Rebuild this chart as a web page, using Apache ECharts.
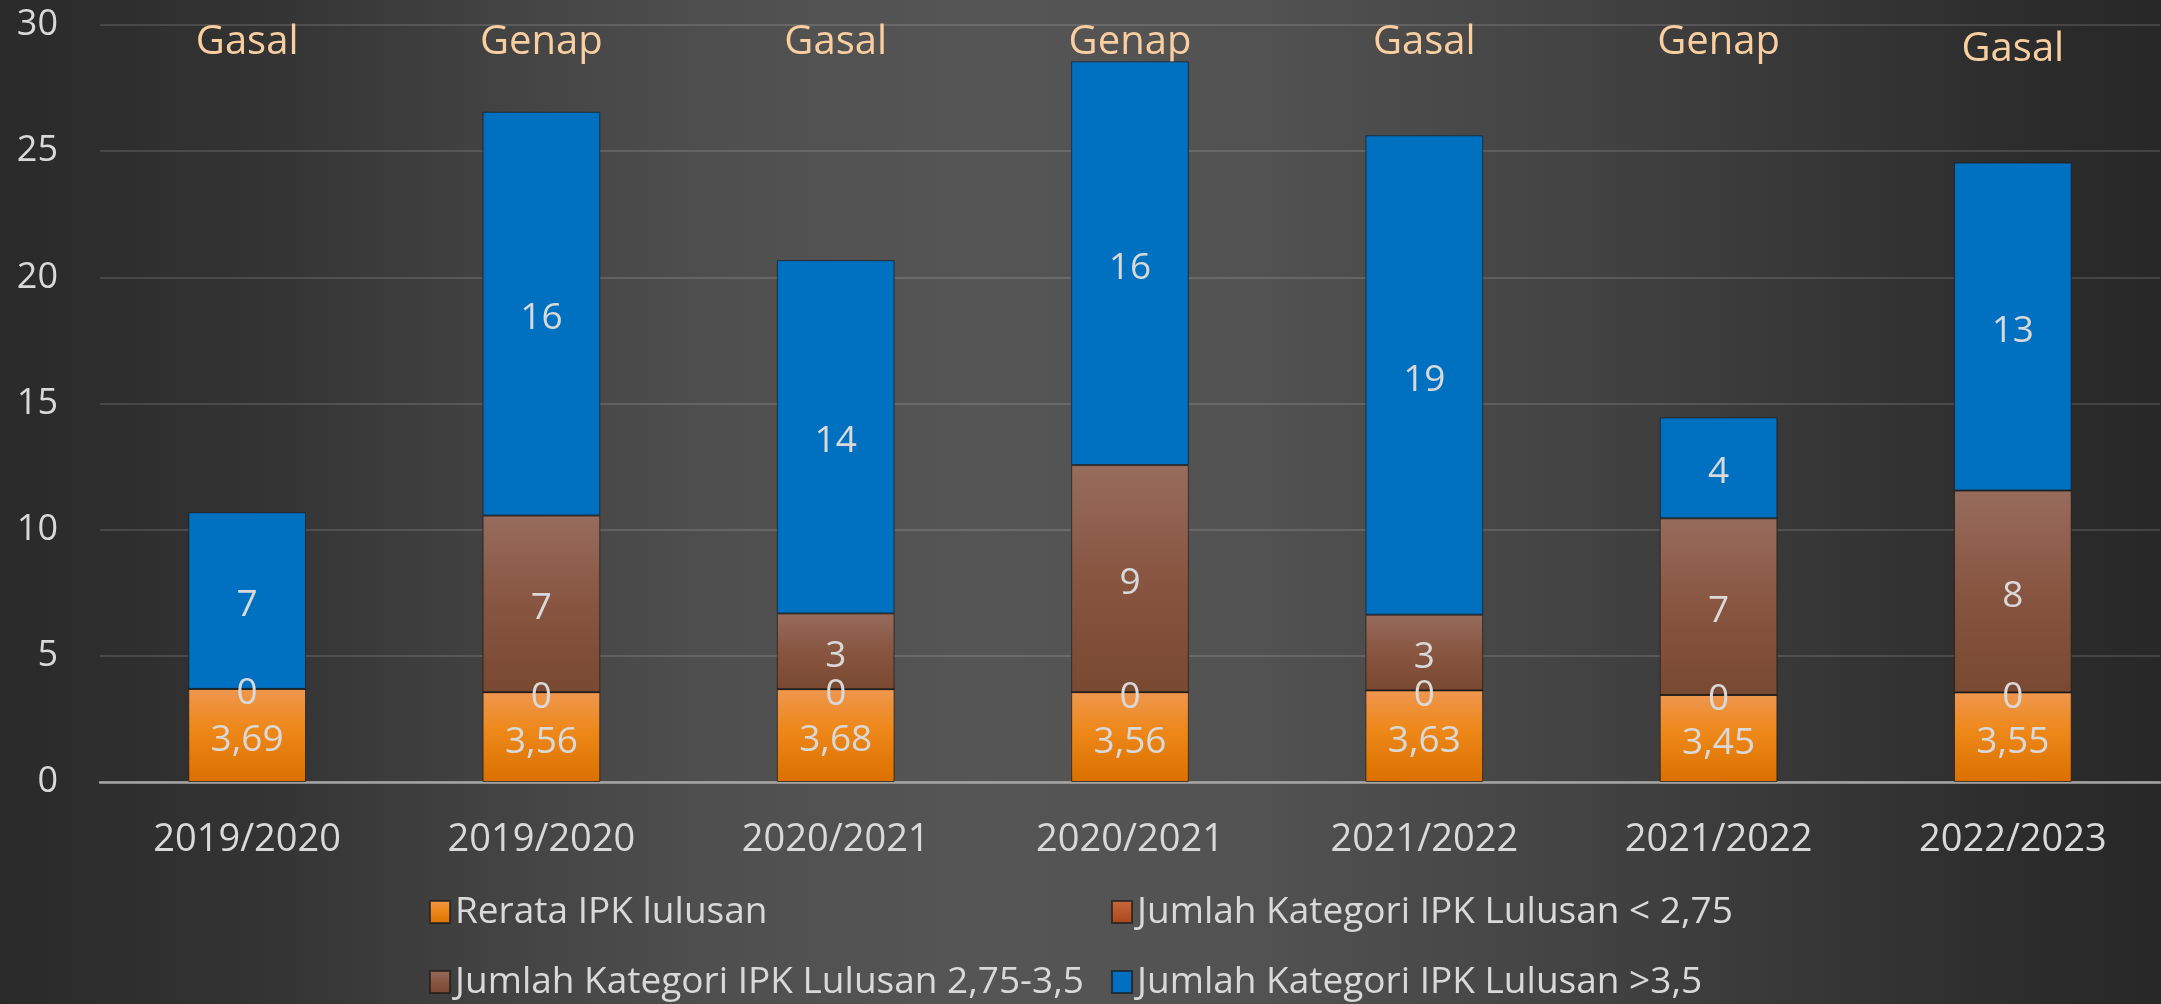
<!DOCTYPE html>
<html>
<head>
<meta charset="utf-8">
<script src="https://cdn.jsdelivr.net/npm/echarts@6/dist/echarts.min.js"></script>
<style>
  html, body { margin: 0; padding: 0; background: #2a2a2a; }
  #chart { width: 2161px; height: 1004px; }
</style>
</head>
<body>
<div id="chart"></div>
<script>
const years = ['2019/2020', '2019/2020', '2020/2021', '2020/2021', '2021/2022', '2021/2022', '2022/2023']
const semesters = ['Gasal', 'Genap', 'Gasal', 'Genap', 'Gasal', 'Genap', 'Gasal']

const rerataIpk = [3.69, 3.56, 3.68, 3.56, 3.63, 3.45, 3.55]
const ipkBawah275 = [0, 0, 0, 0, 0, 0, 0]
const ipk275to35 = ['-', 7, 3, 9, 3, 7, 8]
const ipkAtas35 = [7, 16, 14, 16, 19, 4, 13]

const seriesNames = [
  'Rerata IPK lulusan',
  'Jumlah Kategori IPK Lulusan < 2,75',
  'Jumlah Kategori IPK Lulusan 2,75-3,5',
  'Jumlah Kategori IPK Lulusan >3,5',
]

const FONT = 'Open Sans'
const TEXT = '#d9d9d9'

function vgrad(stops) {
  return new echarts.graphic.LinearGradient(0, 0, 0, 1,
    stops.map(([offset, color]) => ({ offset, color })))
}

const barColors = [
  vgrad([[0, '#f0974f'], [0.45, '#ed8717'], [1, '#da7000']]),
  vgrad([[0, '#c9673d'], [1, '#a9461b']]),
  vgrad([[0, '#976c5d'], [0.5, '#885540'], [1, '#7a4931']]),
  '#0070c0',
]

const label = {
  show: true,
  position: 'inside',
  offset: [0, 5],
  color: TEXT,
  fontSize: 37,
  fontFamily: FONT,
  formatter: (p) => String(p.value).replace('.', ','),
}

function barSeries(i, data) {
  return {
    name: seriesNames[i],
    type: 'bar',
    stack: 'total',
    barWidth: '40%',
    itemStyle: { color: barColors[i], borderColor: 'rgba(25,25,25,0.7)', borderWidth: 1 },
    label,
    data,
  }
}

const chart = echarts.init(document.getElementById('chart'))

chart.setOption({
  animation: false,
  backgroundColor: new echarts.graphic.LinearGradient(0, 0, 1, 0, [
    { offset: 0, color: '#2a2a2a' },
    { offset: 0.12, color: '#333333' },
    { offset: 0.24, color: '#444444' },
    { offset: 0.33, color: '#4f4f4f' },
    { offset: 0.45, color: '#555555' },
    { offset: 0.58, color: '#525252' },
    { offset: 0.7, color: '#464646' },
    { offset: 0.8, color: '#3b3b3b' },
    { offset: 0.89, color: '#313131' },
    { offset: 0.96, color: '#2a2a2a' },
    { offset: 1, color: '#282828' },
  ]),
  textStyle: { fontFamily: FONT },
  grid: { left: 100, right: 1, top: 25, bottom: 222, containLabel: false },
  legend: {
    data: seriesNames,
    left: 424,
    top: 884,
    width: 1420,
    icon: 'rect',
    itemWidth: 20,
    itemHeight: 22,
    itemGap: 24,
    textStyle: { color: TEXT, fontSize: 37, fontFamily: FONT, width: 632, lineHeight: 46 },
  },
  xAxis: [
    {
      type: 'category',
      data: years,
      axisLine: { lineStyle: { color: '#a6a6a6', width: 2.5 } },
      axisTick: { show: false },
      axisLabel: { color: TEXT, fontSize: 38, fontFamily: FONT, margin: 39 },
    },
    {
      type: 'category',
      position: 'top',
      data: semesters.map((s, i) => (i === semesters.length - 1
        ? { value: s, textStyle: { verticalAlign: 'top', lineHeight: 14 } }
        : s)),
      axisLine: { show: false },
      axisTick: { show: false },
      splitLine: { show: false },
      axisLabel: {
        inside: true,
        margin: 18,
        verticalAlign: 'middle',
        color: '#f9cfa1',
        fontSize: 40,
        fontFamily: FONT,
      },
    },
  ],
  yAxis: {
    type: 'value',
    min: 0,
    max: 30,
    interval: 5,
    axisLine: { show: false },
    axisTick: { show: false },
    splitLine: { lineStyle: { color: 'rgba(255,255,255,0.13)', width: 2 } },
    axisLabel: { color: TEXT, fontSize: 36, fontFamily: FONT, margin: 42 },
  },
  series: [
    barSeries(0, rerataIpk),
    barSeries(1, ipkBawah275),
    barSeries(2, ipk275to35),
    barSeries(3, ipkAtas35),
  ],
})
</script>
</body>
</html>
